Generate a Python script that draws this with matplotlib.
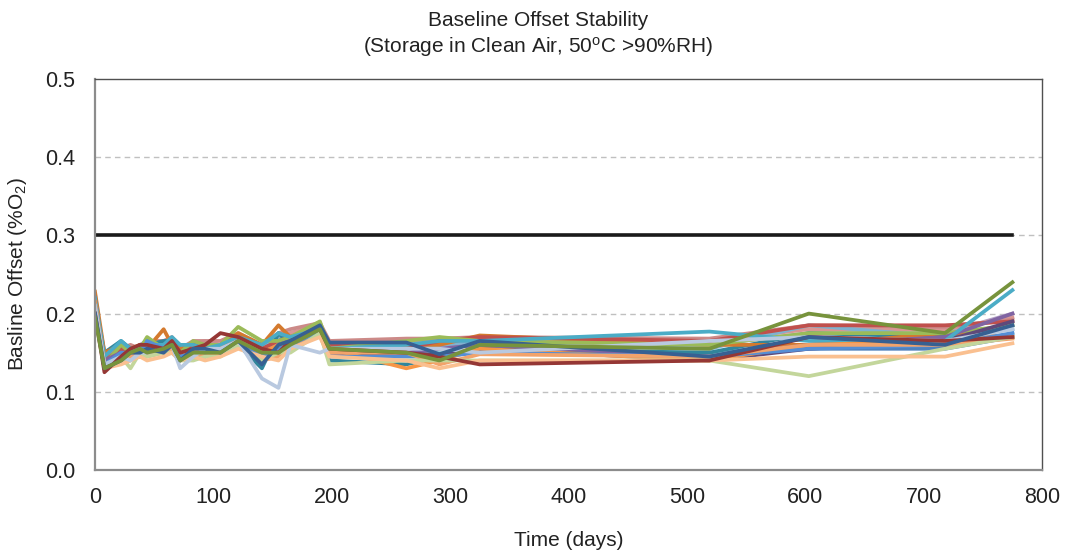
# plot.py
import matplotlib.pyplot as plt
import numpy as np

plt.rcParams['font.family'] = ['Liberation Sans', 'DejaVu Sans']
plt.rcParams['mathtext.fontset'] = 'custom'
plt.rcParams['mathtext.rm'] = 'Liberation Sans'
plt.rcParams['mathtext.it'] = 'Liberation Sans'

# measurement days shared by all sensors
days = [0, 8, 22, 30, 38, 44, 58, 65, 72, 83, 93, 106, 121, 141, 155, 165, 190, 198,
        263, 291, 325, 519, 603, 718, 775]

# baseline offset (%O2) per sensor
s_blue = [0.21, 0.13, 0.15, 0.155, 0.145, 0.16, 0.15, 0.155, 0.14, 0.15, 0.15, 0.15, 0.16, 0.14, 0.155, 0.16, 0.175, 0.155,
          0.15, 0.145, 0.155, 0.145, 0.155, 0.155, 0.17]
s_red = [0.22, 0.14, 0.155, 0.15, 0.16, 0.155, 0.16, 0.165, 0.15, 0.16, 0.155, 0.16, 0.17, 0.155, 0.165, 0.17, 0.18, 0.16,
         0.155, 0.165, 0.17, 0.165, 0.185, 0.185, 0.19]
s_green = [0.2, 0.135, 0.16, 0.15, 0.155, 0.17, 0.155, 0.16, 0.15, 0.165, 0.16, 0.16, 0.183, 0.165, 0.165, 0.17, 0.19, 0.155,
           0.165, 0.17, 0.165, 0.16, 0.175, 0.175, 0.185]
s_purple = [0.21, 0.14, 0.15, 0.145, 0.15, 0.15, 0.155, 0.16, 0.145, 0.155, 0.15, 0.155, 0.165, 0.15, 0.16, 0.165, 0.18, 0.155,
            0.15, 0.155, 0.16, 0.145, 0.16, 0.17, 0.2]
s_aqua = [0.22, 0.145, 0.165, 0.155, 0.155, 0.16, 0.16, 0.17, 0.16, 0.16, 0.155, 0.16, 0.17, 0.16, 0.175, 0.17, 0.18, 0.155,
          0.16, 0.165, 0.165, 0.177, 0.165, 0.165, 0.23]
s_orange = [0.215, 0.135, 0.145, 0.145, 0.15, 0.15, 0.155, 0.155, 0.145, 0.155, 0.15, 0.155, 0.165, 0.15, 0.16, 0.16, 0.18, 0.155,
            0.13, 0.14, 0.155, 0.14, 0.16, 0.165, 0.17]
s_ltblue = [0.21, 0.135, 0.145, 0.14, 0.15, 0.15, 0.155, 0.16, 0.13, 0.145, 0.155, 0.155, 0.165, 0.117, 0.105, 0.16, 0.15, 0.155,
            0.155, 0.155, 0.15, 0.165, 0.17, 0.165, 0.18]
s_peach = [0.205, 0.13, 0.135, 0.14, 0.145, 0.14, 0.145, 0.15, 0.14, 0.145, 0.14, 0.145, 0.155, 0.145, 0.14, 0.155, 0.17, 0.145,
           0.14, 0.13, 0.14, 0.14, 0.145, 0.145, 0.162]
s_ltgreen = [0.2, 0.13, 0.145, 0.13, 0.15, 0.145, 0.15, 0.15, 0.14, 0.14, 0.145, 0.145, 0.16, 0.14, 0.15, 0.15, 0.175, 0.135,
             0.14, 0.14, 0.14, 0.14, 0.12, 0.155, 0.17]
s_dkorange = [0.228, 0.15, 0.16, 0.155, 0.16, 0.155, 0.18, 0.16, 0.155, 0.16, 0.155, 0.16, 0.175, 0.16, 0.185, 0.17, 0.185, 0.16,
              0.16, 0.16, 0.172, 0.16, 0.16, 0.175, 0.17]
s_teal = [0.215, 0.15, 0.165, 0.155, 0.15, 0.16, 0.165, 0.165, 0.155, 0.15, 0.145, 0.15, 0.16, 0.13, 0.175, 0.16, 0.175, 0.14,
          0.135, 0.145, 0.155, 0.15, 0.175, 0.17, 0.185]
s_pink = [0.21, 0.14, 0.15, 0.155, 0.155, 0.16, 0.16, 0.165, 0.15, 0.16, 0.16, 0.16, 0.17, 0.16, 0.17, 0.175, 0.185, 0.16,
          0.165, 0.165, 0.168, 0.165, 0.18, 0.18, 0.195]
s_lavender = [0.215, 0.145, 0.16, 0.15, 0.16, 0.165, 0.16, 0.165, 0.155, 0.16, 0.165, 0.16, 0.17, 0.16, 0.165, 0.175, 0.185, 0.16,
              0.16, 0.16, 0.165, 0.16, 0.175, 0.175, 0.2]
s_ltaqua = [0.225, 0.14, 0.16, 0.14, 0.155, 0.155, 0.16, 0.16, 0.15, 0.155, 0.15, 0.155, 0.165, 0.15, 0.165, 0.165, 0.18, 0.15,
            0.15, 0.15, 0.15, 0.15, 0.16, 0.16, 0.175]
s_midblue = [0.21, 0.135, 0.15, 0.15, 0.145, 0.165, 0.155, 0.155, 0.145, 0.15, 0.15, 0.15, 0.16, 0.145, 0.155, 0.16, 0.175, 0.145,
             0.145, 0.145, 0.15, 0.145, 0.155, 0.16, 0.175]
s_rose = [0.215, 0.145, 0.155, 0.16, 0.155, 0.165, 0.165, 0.17, 0.155, 0.165, 0.165, 0.165, 0.175, 0.16, 0.175, 0.18, 0.188, 0.165,
          0.168, 0.168, 0.17, 0.168, 0.185, 0.183, 0.192]
s_dkpurple = [0.205, 0.13, 0.145, 0.15, 0.15, 0.155, 0.15, 0.155, 0.145, 0.15, 0.155, 0.155, 0.16, 0.145, 0.15, 0.16, 0.178, 0.15,
              0.148, 0.148, 0.155, 0.14, 0.155, 0.165, 0.19]
s_sky = [0.218, 0.14, 0.155, 0.145, 0.16, 0.16, 0.16, 0.165, 0.155, 0.16, 0.16, 0.158, 0.168, 0.155, 0.17, 0.168, 0.182, 0.152,
         0.155, 0.16, 0.16, 0.155, 0.185, 0.17, 0.18]
s_apricot = [0.21, 0.135, 0.14, 0.145, 0.15, 0.145, 0.15, 0.155, 0.14, 0.15, 0.145, 0.15, 0.16, 0.14, 0.145, 0.155, 0.172, 0.15,
             0.15, 0.135, 0.148, 0.145, 0.16, 0.16, 0.168]
s_dkblue = [0.2, 0.13, 0.14, 0.15, 0.15, 0.155, 0.15, 0.16, 0.14, 0.155, 0.155, 0.15, 0.165, 0.135, 0.16, 0.165, 0.185, 0.163,
            0.163, 0.148, 0.165, 0.145, 0.17, 0.16, 0.185]
s_dkred = [0.2, 0.125, 0.145, 0.155, 0.16, 0.16, 0.155, 0.165, 0.15, 0.155, 0.16, 0.175, 0.17, 0.155, 0.15, 0.165, 0.18, 0.155,
           0.15, 0.145, 0.135, 0.14, 0.17, 0.165, 0.17]
s_olive = [0.195, 0.13, 0.14, 0.15, 0.155, 0.15, 0.155, 0.16, 0.14, 0.15, 0.15, 0.15, 0.165, 0.15, 0.15, 0.16, 0.18, 0.155,
           0.15, 0.14, 0.16, 0.155, 0.2, 0.175, 0.24]

# pass/fail limit
limit_days = [0, 775]
limit = [0.3, 0.3]

series = [
    (s_ltaqua, '#93CDDD'), (s_lavender, '#B3A2C7'), (s_pink, '#D99694'), (s_rose, '#CC8A88'),
    (s_sky, '#7FB2D0'), (s_teal, '#31859C'), (s_dkorange, '#D47A2E'), (s_blue, '#4F81BD'),
    (s_red, '#C0504D'), (s_green, '#9BBB59'), (s_purple, '#8064A2'), (s_dkpurple, '#5F497A'),
    (s_aqua, '#4BACC6'), (s_orange, '#F79646'), (s_midblue, '#558ED5'), (s_apricot, '#F2A36B'),
    (s_ltgreen, '#C3D69B'), (s_peach, '#FAC090'), (s_ltblue, '#B9C9E0'), (s_dkred, '#953735'),
    (s_dkblue, '#376092'), (s_olive, '#77933C'),
]

fig = plt.figure(figsize=(10.66, 5.56), dpi=100)
ax = fig.add_axes([0.0891, 0.1547, 0.8884, 0.7033])

for vals, col in series:
    ax.plot(days, vals, color=col, lw=2.7, solid_joinstyle='round')
ax.plot(limit_days, limit, color='#1a1a1a', lw=2.6)

ax.set_xlim(0, 800)
ax.set_ylim(0, 0.5)
ax.set_xticks(np.arange(0, 801, 100))
ax.set_yticks(np.arange(0, 0.51, 0.1))
ax.set_yticklabels(['%.1f' % v for v in np.arange(0, 0.51, 0.1)])
ax.tick_params(length=0, labelsize=15.5, colors='#222222')
ax.tick_params(axis='y', pad=14)
ax.tick_params(axis='x', pad=12)

for y in [0.1, 0.2, 0.3, 0.4]:
    ax.axhline(y, color='#C0C0C0', lw=1, ls=(0, (4, 3)), zorder=0)

for side in ['left', 'bottom']:
    ax.spines[side].set_color('#8C8C8C')
    ax.spines[side].set_linewidth(1.6)
for side in ['top', 'right']:
    ax.spines[side].set_color('#505050')
    ax.spines[side].set_linewidth(1.0)

ax.set_xlabel('Time (days)', fontsize=15, labelpad=17, color='#222222')
ax.set_ylabel('Basline Offset (%O$_2$)', fontsize=15, labelpad=12, color='#222222')
fig.text(0.505, 0.98, 'Baseline Offset Stability\n(Storage in Clean Air, 50$^\\mathrm{o}$C >90%RH)',
         fontsize=15, ha='center', va='top', color='#222222', linespacing=1.25)

plt.savefig('out.png', dpi=100)
